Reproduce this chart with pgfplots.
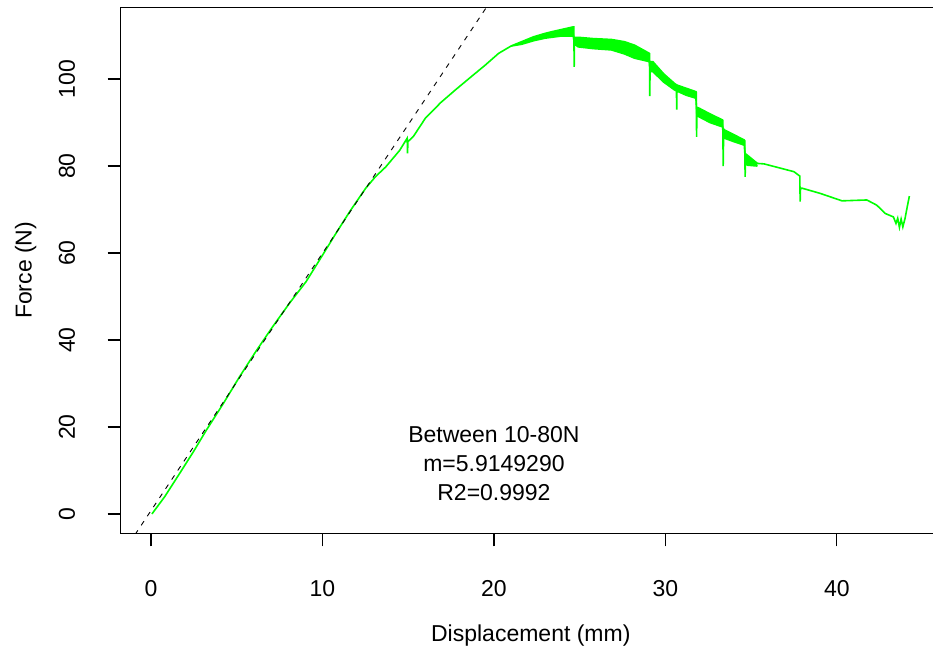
\documentclass[border=0pt]{standalone}
\usepackage{fontspec}
\setmainfont{Liberation Sans}
\usepackage{pgfplots}
\pgfplotsset{compat=1.18}
\usepgfplotslibrary{fillbetween}
\definecolor{rgreen}{RGB}{0,255,0}
\begin{document}
\fontsize{23}{28}\selectfont
\begin{tikzpicture}
\begin{axis}[
  at={(120.7pt,117.7pt)}, anchor=south west,
  scale only axis, width=820.2pt, height=526pt,
  xmin=-1.77, xmax=46.07, ymin=-4.44, ymax=116.5,
  xtick={0,10,20,30,40}, ytick={0,20,40,60,80,100},
  tick pos=left, tick align=outside, major tick length=13pt,
  axis line style={line width=1.2pt, black},
  every tick/.style={black, line width=1.2pt},
  font=\fontsize{23}{28}\selectfont,
  /pgf/number format/assume math mode=true,
  xticklabel style={anchor=center, yshift=-42.5pt},
  yticklabel style={xshift=-40.8pt, rotate=90, anchor=center},
  xlabel={Displacement (mm)}, ylabel={Force (N)},
  xlabel style={at={([yshift=-108.4pt]axis description cs:0.5,0)}, anchor=base},
  ylabel style={at={([xshift=-89pt]axis description cs:0,0.5)}, anchor=base},
]
% noisy band edges
\addplot[draw=none, name path=U, forget plot] coordinates {
(21.0,107.6) (21.62,108.6) (22.3,109.7) (22.98,110.5) (23.5,111.0) (23.95,111.4) (24.62,112.0)
(24.70,109.6) (24.91,109.6) (25.8,109.3) (26.85,109.1) (27.6,108.6) (28.2,107.8) (29.07,105.9)
(29.11,104.0) (29.27,104.0) (29.9,101.2) (30.53,99.0) (31.2,97.9) (31.78,97.1)
(31.84,93.5) (31.97,93.3) (32.6,92.0) (33.33,90.6) (33.40,88.5) (33.44,88.3) (34.0,87.2) (34.6,86.0)
(34.68,82.8) (34.78,82.5) (35.37,80.6)
};
\addplot[draw=none, name path=L, forget plot] coordinates {
(21.0,107.6) (21.62,108.0) (22.3,108.8) (22.98,109.4) (23.95,109.9) (24.62,109.9)
(24.70,108.0) (24.91,107.4) (25.8,107.0) (26.85,106.7) (27.6,105.8) (28.2,104.8) (29.07,104.0)
(29.11,101.7) (29.27,101.7) (29.9,99.3) (30.53,97.5) (31.2,96.3) (31.78,95.6)
(31.84,91.5) (31.97,91.3) (32.6,90.0) (33.33,89.0) (33.40,86.5) (33.44,86.4) (34.0,85.6) (34.6,84.8)
(34.68,80.5) (34.78,80.2) (35.37,80.0)
};
\addplot[rgreen, forget plot] fill between[of=U and L];
\addplot[rgreen, line width=1.6pt, forget plot] coordinates {
(21.0,107.6) (21.62,108.0) (22.3,108.8) (22.98,109.4) (23.95,109.9) (24.62,109.9)
(24.70,108.0) (24.91,107.4) (25.8,107.0) (26.85,106.7) (27.6,105.8) (28.2,104.8) (29.07,104.0)
(29.11,101.7) (29.27,101.7) (29.9,99.3) (30.53,97.5) (31.2,96.3) (31.78,95.6)
(31.84,91.5) (31.97,91.3) (32.6,90.0) (33.33,89.0) (33.40,86.5) (33.44,86.4) (34.0,85.6) (34.6,84.8)
(34.68,80.5) (34.78,80.2) (35.37,80.0)
};
% main curve
\addplot[rgreen, line width=1.6pt] coordinates {
(0.05,0) (0.8,4.0) (1.68,9.4) (2.5,14.5) (3.23,19.3) (4.2,25.3) (5.17,31.6) (6.1,37.3)
(7.1,43.1) (8.1,48.6) (9.04,53.4) (10.0,59.5) (10.78,64.5) (11.6,69.6) (12.52,74.9)
(13.1,77.6) (13.69,79.8) (14.5,83.6) (14.94,86.4) (14.96,82.9) (14.98,85.6) (15.3,86.8) (16.0,91.0)
(16.9,94.6) (17.75,97.5) (18.6,100.3) (19.49,103.2) (20.27,105.9) (21.0,107.6) (21.62,108.6)
(22.3,109.7) (22.98,110.5) (23.5,111.0) (23.95,111.4) (24.62,112.0)
(24.66,112.0) (24.68,102.8) (24.70,109.6)
(24.91,109.6) (25.8,109.3) (26.85,109.1) (27.6,108.6) (28.2,107.8) (29.07,105.9)
(29.09,96.1) (29.11,104.0)
(29.27,104.0) (29.9,101.2) (30.53,99.0)
(30.64,98.7) (30.66,93.0) (30.68,98.6)
(31.2,97.9) (31.78,97.1)
(31.80,97.0) (31.82,86.7) (31.84,93.5)
(31.97,93.3) (32.6,92.0) (33.33,90.6)
(33.35,90.5) (33.37,80.0) (33.40,88.5)
(33.44,88.3) (34.0,87.2) (34.6,86.0)
(34.63,85.8) (34.65,77.5) (34.68,82.8)
(34.78,82.5) (35.37,80.6) (35.75,80.5) (36.53,79.7) (37.5,78.7) (37.84,77.7)
(37.86,71.8) (37.88,74.9)
(37.98,74.9) (39.04,73.7) (40.3,72.0) (41.75,72.2) (42.33,71.0) (42.82,69.1) (43.3,68.3)
(43.45,66.8) (43.55,68.0) (43.65,65.9) (43.75,67.8) (43.85,66.0) (43.98,68.0)
(44.1,70.5) (44.23,73.1)
};
% fitted line
\addplot[black, line width=0.9pt, dash pattern=on 5pt off 6pt] coordinates {(-2,-11.03) (21,125.0)};
\node[anchor=base] at (axis cs:20,16.39) {Between 10-80N};
\node[anchor=base] at (axis cs:20,9.72) {m=5.9149290};
\node[anchor=base] at (axis cs:20,2.99) {R2=0.9992};
\end{axis}
\pgfresetboundingbox
\path[use as bounding box] (0,0) rectangle (933pt,651pt);
\end{tikzpicture}
\end{document}
